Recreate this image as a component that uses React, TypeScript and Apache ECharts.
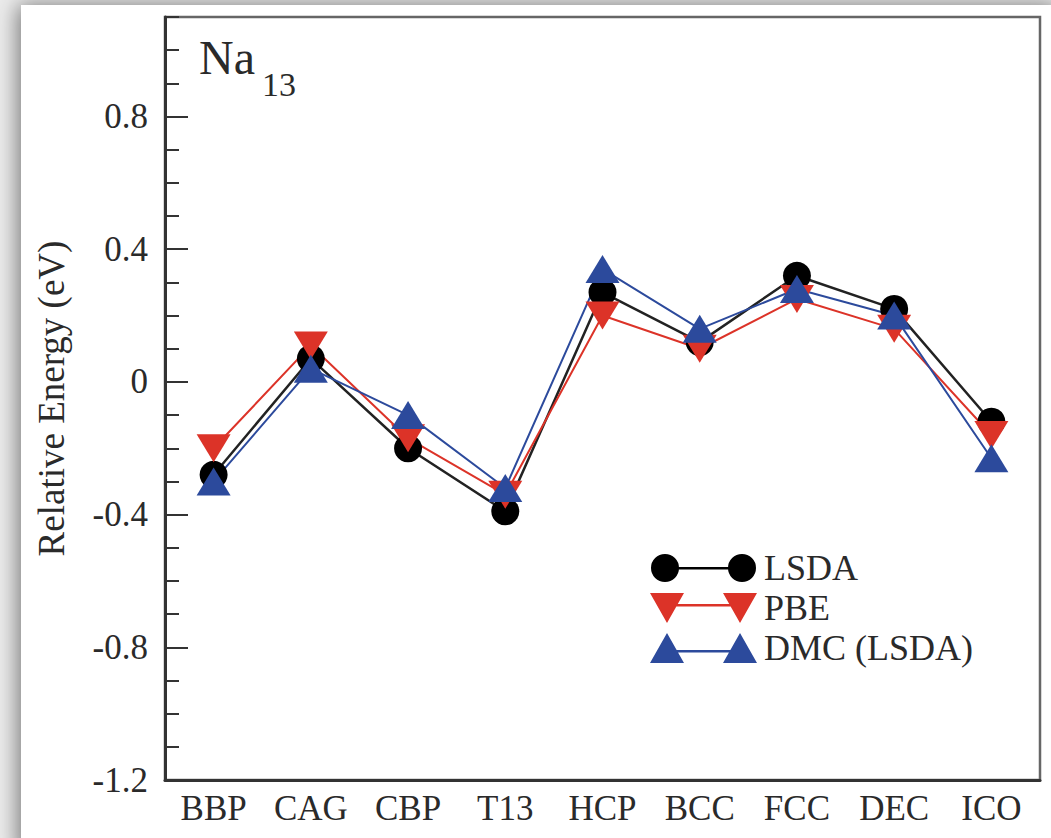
import React, { useEffect, useRef } from "react";
import * as echarts from "echarts";

const categories = ["BBP", "CAG", "CBP", "T13", "HCP", "BCC", "FCC", "DEC", "ICO"];
const lsdaValues = [-0.28, 0.07, -0.2, -0.39, 0.27, 0.12, 0.32, 0.22, -0.12];
const pbeValues = [-0.2, 0.11, -0.17, -0.34, 0.2, 0.1, 0.25, 0.16, -0.16];
const dmcValues = [-0.3, 0.04, -0.1, -0.32, 0.34, 0.16, 0.28, 0.2, -0.23];
const seriesNames = ["LSDA", "PBE", "DMC (LSDA)"];
const yMin = -1.2;
const yMax = 1.1;

const FONT = "'Liberation Serif', 'Times New Roman', serif";
const TEXT = "#2a2a2a";
const RED = "#dc3328";
const BLUE = "#2c4a9c";

// legend icons (107 x 30 boxes)
const iconCircles =
  "path://M1,15 a14,14 0 1,1 28,0 a14,14 0 1,1 -28,0 Z M78,15 a14,14 0 1,1 28,0 a14,14 0 1,1 -28,0 Z M15,14 L92,14 L92,16.5 L15,16.5 Z M0,0 L0.01,0 L0.01,0.01 Z M107,30 L106.99,30 L106.99,29.99 Z";
const iconDown =
  "path://M0,0 L34,0 L17,30 Z M73,0 L107,0 L90,30 Z M17,11 L90,11 L90,13.5 L17,13.5 Z";
const iconUp =
  "path://M17,0 L34,30 L0,30 Z M90,0 L107,30 L73,30 Z M17,17 L90,17 L90,19.5 L17,19.5 Z";

export default function App() {
  const ref = useRef<HTMLDivElement>(null);
  useEffect(() => {
    if (!ref.current) return;
    const chart = echarts.init(ref.current, null, { renderer: "svg" });
    chart.setOption({
      animation: false,
      backgroundColor: "#ececec",
      graphic: [
        {
          type: "rect",
          z: -10,
          silent: true,
          shape: { x: 21, y: 5, width: 1040, height: 850 },
          style: {
            fill: "#ffffff",
            shadowBlur: 22,
            shadowColor: "rgba(0,0,0,0.5)",
            shadowOffsetX: -3,
          },
        },
        {
          type: "text",
          left: 199,
          top: 33,
          style: { text: "Na", font: `48px ${FONT}`, fill: TEXT },
        },
        {
          type: "text",
          left: 262,
          top: 67,
          style: { text: "13", font: `34px ${FONT}`, fill: TEXT },
        },
      ],
      grid: {
        left: 165,
        right: 11,
        top: 17,
        bottom: 58,
        show: true,
        borderColor: "#666",
        borderWidth: 2.5,
        backgroundColor: "transparent",
      },
      legend: {
        orient: "vertical",
        left: 645,
        top: 545,
        itemWidth: 107,
        itemHeight: 30,
        itemGap: 4,
        itemStyle: { borderWidth: 0 },
        textStyle: {
          fontFamily: FONT,
          fontSize: 36,
          color: TEXT,
          padding: [0, 0, 0, 2],
        },
        data: [
          { name: seriesNames[0], icon: iconCircles },
          { name: seriesNames[1], icon: iconDown },
          { name: seriesNames[2], icon: iconUp },
        ],
      },
      xAxis: {
        type: "category",
        data: categories,
        boundaryGap: true,
        axisLine: { onZero: false, lineStyle: { color: "#333", width: 3 } },
        axisTick: {
          inside: true,
          alignWithLabel: true,
          length: 17,
          lineStyle: { color: "#333", width: 2 },
        },
        axisLabel: {
          fontFamily: FONT,
          fontSize: 35,
          color: TEXT,
          margin: 11,
        },
        splitLine: { show: false },
      },
      yAxis: [
        {
          type: "value",
          min: yMin,
          max: yMax,
          interval: 0.1,
          position: "left",
          axisLine: { show: true, onZero: false, lineStyle: { color: "#333", width: 3 } },
          axisTick: {
            show: true,
            inside: true,
            length: 14,
            lineStyle: { color: "#333", width: 2 },
          },
          axisLabel: { show: false },
          splitLine: { show: false },
        },
        {
          type: "value",
          min: yMin,
          max: yMax,
          interval: 0.4,
          position: "left",
          offset: 0,
          name: "Relative Energy (eV)",
          nameLocation: "middle",
          nameRotate: 90,
          nameGap: 95,
          nameTextStyle: { fontFamily: FONT, fontSize: 37, color: TEXT },
          axisLine: { show: false, onZero: false },
          axisTick: {
            show: true,
            inside: true,
            length: 23,
            lineStyle: { color: "#333", width: 2 },
          },
          axisLabel: {
            fontFamily: FONT,
            fontSize: 35,
            color: TEXT,
            margin: 17,
            showMaxLabel: false,
            formatter: (v: number) => {
              const r = Math.round(v * 10) / 10;
              return r === 0 ? "0" : String(r);
            },
          },
          splitLine: { show: false },
        },
      ],
      series: [
        {
          name: seriesNames[0],
          type: "line",
          data: lsdaValues,
          symbol: "circle",
          symbolSize: 28,
          color: "#000",
          itemStyle: { color: "#000" },
          lineStyle: { color: "#222", width: 2.5 },
        },
        {
          name: seriesNames[1],
          type: "line",
          data: pbeValues,
          symbol: "triangle",
          symbolRotate: 180,
          symbolSize: [34, 28],
          color: RED,
          itemStyle: { color: RED },
          lineStyle: { color: RED, width: 2 },
        },
        {
          name: seriesNames[2],
          type: "line",
          data: dmcValues,
          symbol: "triangle",
          symbolSize: [34, 28],
          color: BLUE,
          itemStyle: { color: BLUE },
          lineStyle: { color: BLUE, width: 2 },
        },
      ],
    });
    return () => chart.dispose();
  }, []);
  return (
    <div
      ref={ref}
      style={{ position: "absolute", left: 0, top: 0, width: 1051, height: 838 }}
    />
  );
}
